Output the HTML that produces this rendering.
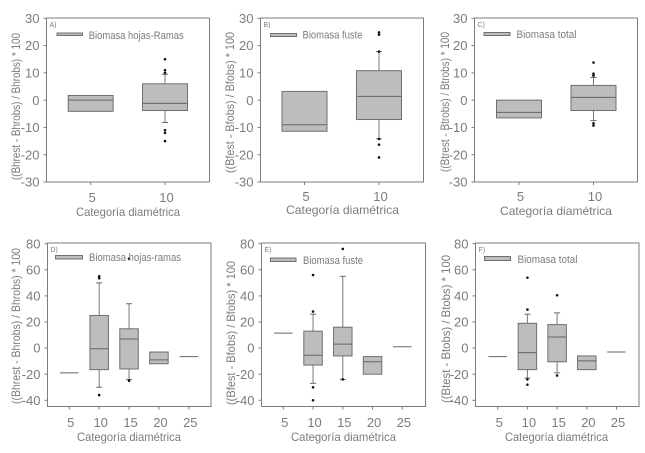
<!DOCTYPE html>
<html lang="es">
<head>
<meta charset="utf-8">
<title>Biomasa por categoría diamétrica</title>
<style>
html,body{margin:0;padding:0;background:#fff;}
svg{display:block;filter:blur(0.25px);}
text{font-family:"Liberation Sans",sans-serif;fill:#7c7c7c;}
</style>
</head>
<body>
<svg id="chart" xmlns="http://www.w3.org/2000/svg" width="645" height="453" viewBox="0 0 645 453"></svg>
<script>
// Shared categories and axis ticks
const categoriesTop = ['5', '10'];
const categoriesBottom = ['5', '10', '15', '20', '25'];
const ticksTop = [30, 20, 10, 0, -10, -20, -30];
const ticksBottom = [80, 60, 40, 20, 0, -20, -40];

// Panel A
const aLow = [null, -8.2];
const aQ1 = [-4.1, -3.8];
const aMedian = [0, -1.2];
const aQ3 = [1.7, 6];
const aHigh = [null, 9.5];
const aOutliers = [[], [15, 11, 10, -11, -12, -15]];

// Panel B
const bLow = [null, -14.2];
const bQ1 = [-11.4, -7.1];
const bMedian = [-9, 1.4];
const bQ3 = [3.2, 10.8];
const bHigh = [null, 17.8];
const bOutliers = [[], [24.8, 24, 17.8, -14.2, -16.3, -21]];

// Panel C
const cLow = [null, -7.5];
const cQ1 = [-6.5, -3.8];
const cMedian = [-4.5, 1];
const cQ3 = [0, 5.4];
const cHigh = [null, 8.3];
const cOutliers = [[], [13.8, 9.7, 9, -8.5, -9.3]];

// Panel D
const dLow = [null, -30, -24, null, null];
const dQ1 = [-19, -16.5, -16, -12, -6.5];
const dMedian = [-19, -0.5, 7, -9, -6.5];
const dQ3 = [-19, 25, 14.8, -3, -6.5];
const dHigh = [null, 50, 34, null, null];
const dOutliers = [[], [55, 53.5, -36], [68.5, -25], [], []];

// Panel E
const eLow = [null, -27, -24, null, null];
const eQ1 = [11.5, -13, -6, -20, 1];
const eMedian = [11.5, -5.5, 3, -10.5, 1];
const eQ3 = [11.5, 13, 16, -6.5, 1];
const eHigh = [null, 26, 55, null, null];
const eOutliers = [[], [56, 28, -30, -40], [76, -24], [], []];

// Panel F
const fLow = [null, -23, -19, null, null];
const fQ1 = [-6.5, -16.5, -10.5, -16.5, -3];
const fMedian = [-6.5, -3.5, 8.5, -9.8, -3];
const fQ3 = [-6.5, 19, 18, -6, -3];
const fHigh = [null, 26, 27, null, null];
const fOutliers = [[], [54, 29.5, -24, -28], [40.5, -21], [], []];

const SVG_NS = 'http://www.w3.org/2000/svg';
const root = document.getElementById('chart');

function add(parent, tag, attrs) {
  const el = document.createElementNS(SVG_NS, tag);
  for (const k in attrs) el.setAttribute(k, attrs[k]);
  parent.appendChild(el);
  return el;
}

function linearScale(d0, d1, r0, r1) {
  return function (v) { return r0 + (v - d0) * (r1 - r0) / (d1 - d0); };
}

function drawPanel(p) {
  const g = add(root, 'g', {});
  
  

  const y = linearScale(p.ticks[0], p.ticks[p.ticks.length - 1], p.yTop, p.yBottom);
  const x = linearScale(0, p.categories.length - 1, p.xFirst, p.xLast);

  const frame = add(g, 'rect', {x: p.left, y: p.top, width: p.right - p.left, height: p.bottom - p.top, fill: '#fff', stroke: '#7d7d7d', 'stroke-width': 1});
  
  

  p.ticks.forEach(function (t) {
    const mark = add(g, 'line', {x1: p.left - 3, x2: p.left, y1: y(t), y2: y(t), stroke: '#7d7d7d', 'stroke-width': 1});
    
    
    const lab = add(g, 'text', {x: p.left - 7, y: y(t) + 4.6, 'text-anchor': 'end', 'font-size': 13});
    
    
    lab.textContent = String(t);
  });

  p.categories.forEach(function (c, i) {
    const cx = x(i);
    const mark = add(g, 'line', {x1: cx, x2: cx, y1: p.bottom, y2: p.bottom + 3, stroke: '#7d7d7d', 'stroke-width': 1});
    
    
    const lab = add(g, 'text', {x: cx + 1.5, y: p.xLabelY, 'text-anchor': 'middle', 'font-size': 13});
    
    
    lab.textContent = c;

    const half = p.boxWidth / 2;
    const box = add(g, 'g', {});
    
    

    if (p.high[i] !== null) {
      add(box, 'line', {x1: cx, x2: cx, y1: y(p.q3[i]), y2: y(p.high[i]), stroke: '#777', 'stroke-width': 1});
      add(box, 'line', {x1: cx - 3, x2: cx + 3, y1: y(p.high[i]), y2: y(p.high[i]), stroke: '#666', 'stroke-width': 1});
    }
    if (p.low[i] !== null) {
      add(box, 'line', {x1: cx, x2: cx, y1: y(p.q1[i]), y2: y(p.low[i]), stroke: '#777', 'stroke-width': 1});
      add(box, 'line', {x1: cx - 3, x2: cx + 3, y1: y(p.low[i]), y2: y(p.low[i]), stroke: '#666', 'stroke-width': 1});
    }
    add(box, 'rect', {x: cx - half, y: y(p.q3[i]), width: p.boxWidth, height: y(p.q1[i]) - y(p.q3[i]), fill: '#bdbdbd', stroke: '#6f6f6f', 'stroke-width': 1});
    add(box, 'line', {x1: cx - half, x2: cx + half, y1: y(p.median[i]), y2: y(p.median[i]), stroke: '#666', 'stroke-width': 1});

    p.outliers[i].forEach(function (v) {
      const dot = add(g, 'circle', {cx: cx, cy: y(v), r: 1.3, fill: '#111'});
      
      
    });
  });

  const tag = add(g, 'text', {x: p.left + 3, y: p.top + 9, 'font-size': 7});
  
  
  tag.textContent = p.letter;

  const swatch = add(g, 'rect', {x: p.swX, y: p.swY, width: p.swW, height: p.swH, fill: '#bdbdbd', stroke: '#6f6f6f', 'stroke-width': 1});
  
  

  const leg = add(g, 'text', {x: p.legX, y: p.legY, 'font-size': 11, textLength: p.legW, lengthAdjust: 'spacingAndGlyphs'});
  
  
  leg.textContent = p.legend;

  const xt = add(g, 'text', {x: p.xtX, y: p.xtY, 'font-size': 12, textLength: p.xtW, lengthAdjust: 'spacingAndGlyphs'});
  
  
  xt.textContent = 'Categoría diamétrica';

  const yt = add(g, 'text', {transform: 'translate(' + p.ytX + ',' + p.ytBottom + ') rotate(-90)', x: 0, y: 0, 'font-size': 12, textLength: p.ytW, lengthAdjust: 'spacingAndGlyphs'});
  
  
  yt.textContent = p.yTitle;
}

const topRow = {top: 18, bottom: 182, yTop: 18.3, yBottom: 182, ticks: ticksTop, categories: categoriesTop, boxWidth: 45};
const bottomRow = {top: 243, bottom: 406.5, yTop: 243.7, yBottom: 400.3, ticks: ticksBottom, categories: categoriesBottom, boxWidth: 18.5};

drawPanel(Object.assign({}, topRow, {
  id: 'a', letter: 'A)', left: 46.5, right: 209.5, xFirst: 90.7, xLast: 165,
  low: aLow, q1: aQ1, median: aMedian, q3: aQ3, high: aHigh, outliers: aOutliers,
  swX: 57, swY: 33, swW: 25.5, swH: 2.5, legX: 88.7, legY: 39, legW: 95, legend: 'Biomasa hojas-Ramas',
  xLabelY: 202, xtX: 76, xtY: 216, xtW: 104, ytX: 20, ytBottom: 180, ytW: 147, yTitle: '((Bhrest - Bhrobs) / Bhrobs) * 100'
}));
drawPanel(Object.assign({}, topRow, {
  id: 'b', letter: 'B)', left: 260.5, right: 423.5, xFirst: 304.5, xLast: 379,
  low: bLow, q1: bQ1, median: bMedian, q3: bQ3, high: bHigh, outliers: bOutliers,
  swX: 270.5, swY: 33.5, swW: 26, swH: 3, legX: 302.5, legY: 38.5, legW: 60, legend: 'Biomasa fuste',
  xLabelY: 201, xtX: 286, xtY: 214, xtW: 113, ytX: 234, ytBottom: 173, ytW: 141, yTitle: '((Bfest - Bfobs) / Bfobs) * 100'
}));
drawPanel(Object.assign({}, topRow, {
  id: 'c', letter: 'C)', left: 474.5, right: 637.5, xFirst: 519, xLast: 593.5,
  low: cLow, q1: cQ1, median: cMedian, q3: cQ3, high: cHigh, outliers: cOutliers,
  swX: 484, swY: 32.5, swW: 26, swH: 3, legX: 516.5, legY: 38, legW: 60, legend: 'Biomasa total',
  xLabelY: 201, xtX: 500, xtY: 215, xtW: 112, ytX: 449, ytBottom: 172, ytW: 140, yTitle: '((Btrest - Btrobs) / Btrobs) * 100'
}));
drawPanel(Object.assign({}, bottomRow, {
  id: 'd', letter: 'D)', left: 47.5, right: 211, xFirst: 69.3, xLast: 188.8,
  low: dLow, q1: dQ1, median: dMedian, q3: dQ3, high: dHigh, outliers: dOutliers,
  swX: 55.5, swY: 255.5, swW: 27, swH: 3.5, legX: 89, legY: 261, legW: 92, legend: 'Biomasa hojas-ramas',
  xLabelY: 427, xtX: 77, xtY: 441, xtW: 104, ytX: 20, ytBottom: 404, ytW: 156, yTitle: '((Bhrest - Bhrobs) / Bhrobs) * 100'
}));
drawPanel(Object.assign({}, bottomRow, {
  id: 'e', letter: 'E)', left: 261.5, right: 425.5, xFirst: 283.3, xLast: 402.3,
  low: eLow, q1: eQ1, median: eMedian, q3: eQ3, high: eHigh, outliers: eOutliers,
  swX: 270.5, swY: 258, swW: 25.5, swH: 3.5, legX: 303, legY: 264, legW: 60, legend: 'Biomasa fuste',
  xLabelY: 427, xtX: 291, xtY: 441, xtW: 105, ytX: 235, ytBottom: 405, ytW: 144, yTitle: '((Bfest - Bfobs) / Bfobs) * 100'
}));
drawPanel(Object.assign({}, bottomRow, {
  id: 'f', letter: 'F)', left: 475.5, right: 639, xFirst: 497.7, xLast: 616.5,
  low: fLow, q1: fQ1, median: fMedian, q3: fQ3, high: fHigh, outliers: fOutliers,
  swX: 484.5, swY: 256.5, swW: 26, swH: 4, legX: 517.5, legY: 263, legW: 60, legend: 'Biomasa total',
  xLabelY: 427, xtX: 505, xtY: 441, xtW: 103, ytX: 450, ytBottom: 403, ytW: 148, yTitle: '((Btest - Btobs) / Btobs) * 100'
}));
</script>
</body>
</html>
